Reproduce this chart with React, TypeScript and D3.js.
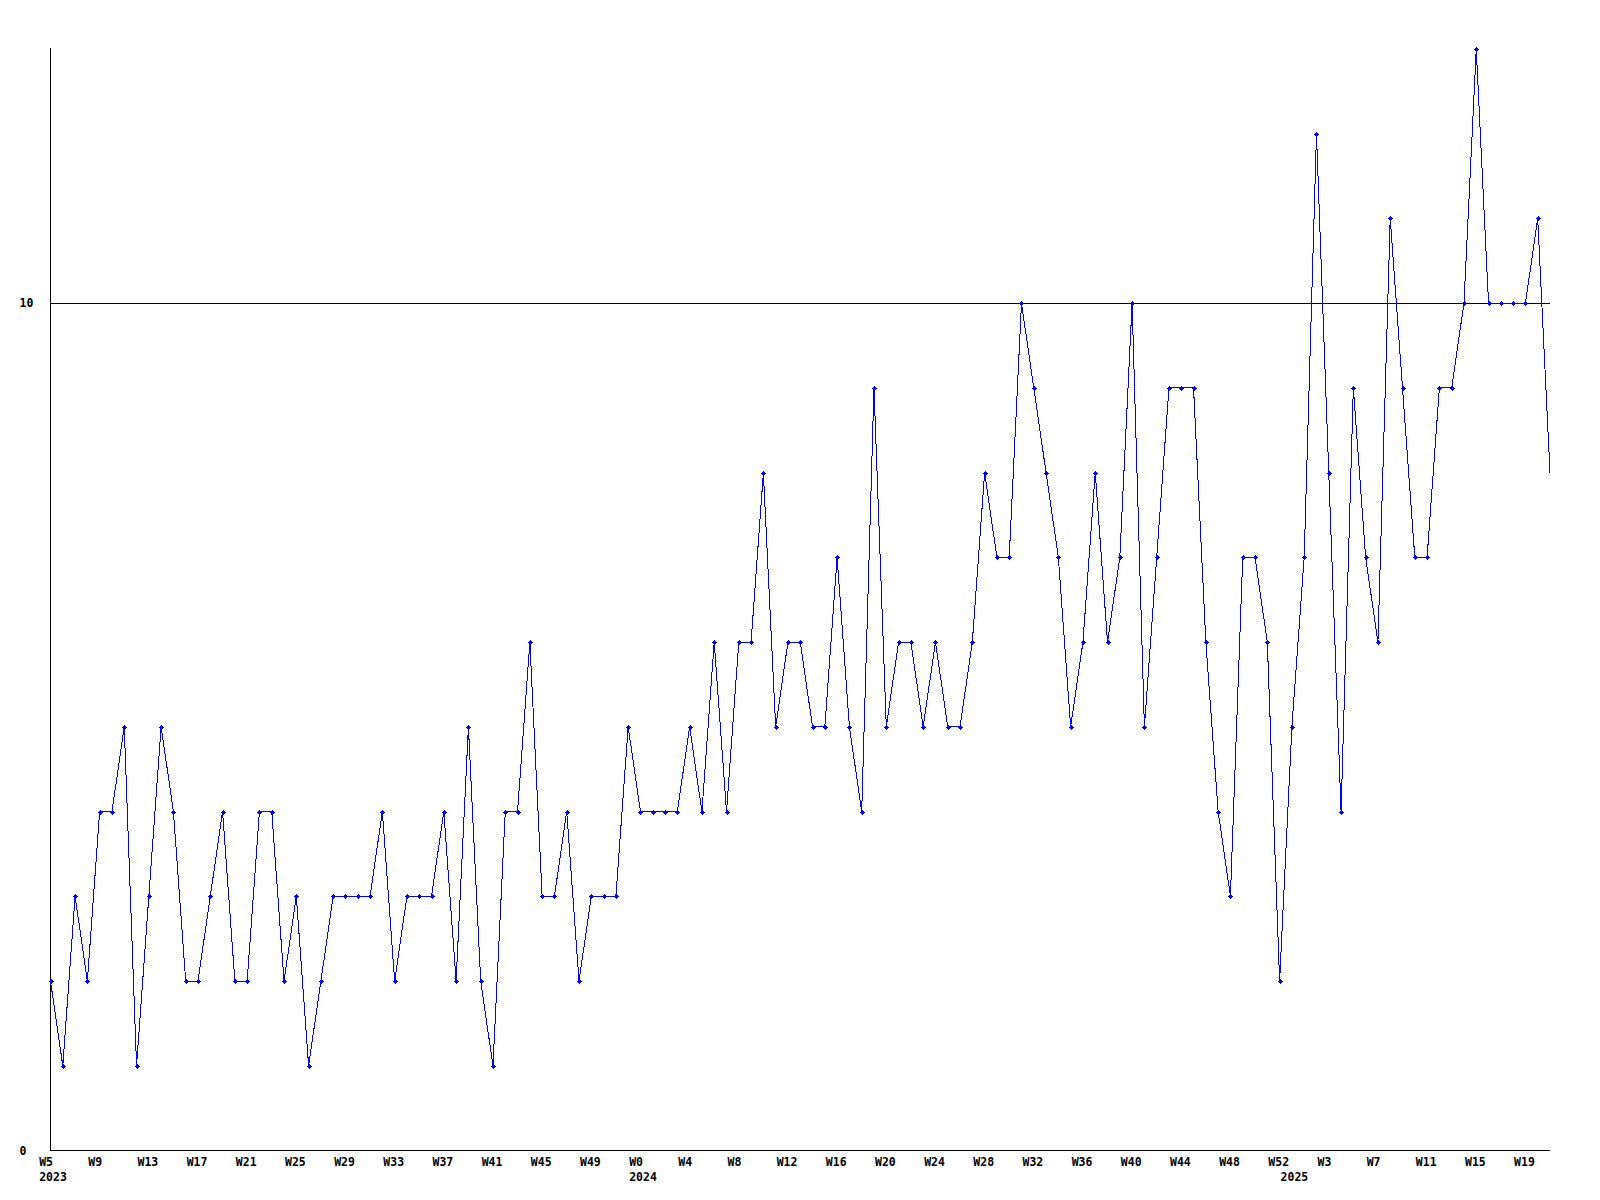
import React from "react";
import * as d3 from "d3";

// Week segments per year (first and last week number shown)
const yearNames = ["2023", "2024", "2025"];
const yearFirstWeek = [5, 0, 0];
const yearLastWeek = [52, 52, 21];

// Weekly counts
const values2023 = [2,1,3,2,4,4,5,1,3,5,4,2,2,3,4,2,2,4,4,2,3,1,2,3,3,3,3,4,2,3,3,3,4,2,5,2,1,4,4,6,3,3,4,2,3,3,3,5];
const values2024 = [4,4,4,4,5,4,6,4,6,6,8,5,6,6,5,5,7,5,4,9,5,6,6,5,6,5,5,6,8,7,7,10,9,8,7,5,6,8,6,7,10,5,7,9,9,9,6,4,3,7,7,6,2];
const values2025 = [5,7,12,8,4,9,7,6,11,9,7,7,9,9,10,13,10,10,10,10,11,8];

const yTicks = [0, 10];
const labelEvery = 4;

type Pt = { key: string; week: string; year: string; firstOfYear: boolean; v: number };

const yearValues = [values2023, values2024, values2025];
const points: Pt[] = [];
yearNames.forEach((y, yi) => {
  const vals = yearValues[yi];
  for (let w = yearFirstWeek[yi]; w <= yearLastWeek[yi]; w++) {
    const idx = w - yearFirstWeek[yi];
    points.push({ key: `${y}-W${w}`, week: `W${w}`, year: y, firstOfYear: idx === 0, v: vals[idx] });
  }
});

const W = 1600, H = 1200;
const left = 50.5, right = 1550, top = 49, bottom = 1150.5;
const font = "'DejaVu Sans Mono', monospace";

export default function App() {
  const x = d3.scalePoint<string>().domain(points.map(p => p.key)).range([left, right]);
  const y = d3.scaleLinear().domain([0, 13]).range([bottom, top]);
  const line = d3.line<Pt>().x(p => x(p.key)!).y(p => y(p.v));

  return (
    <div style={{ position: "absolute", left: 0, top: 0 }}>
      <svg width={W} height={H} style={{ display: "block", background: "#fff" }}>
        <rect width={W} height={H} fill="#fff" />
        {/* gridline at 10 */}
        {yTicks.filter(t => t > 0).map(t => (
          <line key={t} x1={left} x2={right} y1={Math.round(y(t)) + 0.5} y2={Math.round(y(t)) + 0.5} stroke="#000" strokeWidth={1} shapeRendering="crispEdges" />
        ))}
        {/* axes */}
        <line x1={left} x2={left} y1={top - 1} y2={bottom + 0.5} stroke="#000" strokeWidth={1} shapeRendering="crispEdges" />
        <line x1={left} x2={right} y1={bottom} y2={bottom} stroke="#000" strokeWidth={1} shapeRendering="crispEdges" />
        {/* y labels */}
        {yTicks.map(t => (
          <text key={t} x={19.5} y={y(t) + 4} fontFamily={font} fontWeight="bold" fontSize={11.5} fill="#000">{t}</text>
        ))}
        {/* x labels */}
        {points.map((p, i) => (
          <g key={p.key}>
            {i % labelEvery === 0 && (
              <text x={x(p.key)! - 11.3} y={1166} fontFamily={font} fontWeight="bold" fontSize={11.5} fill="#000">{p.week}</text>
            )}
            {p.firstOfYear && (
              <text x={x(p.key)! - 11.3} y={1181} fontFamily={font} fontWeight="bold" fontSize={11.5} fill="#000">{p.year}</text>
            )}
          </g>
        ))}
        {/* series */}
        <path d={line(points)!} fill="none" stroke="#0000ff" strokeWidth={1} shapeRendering="crispEdges" />
        {points.slice(0, points.length - 1).map(p => {
          const cx = Math.round(x(p.key)!);
          const cy = Math.round(y(p.v));
          return (
            <g key={p.key} fill="#0000ff" shapeRendering="crispEdges">
              <rect x={cx - 2} y={cy} width={5} height={1} />
              <rect x={cx} y={cy - 2} width={1} height={5} />
              <rect x={cx - 1} y={cy - 1} width={3} height={3} />
            </g>
          );
        })}
      </svg>
    </div>
  );
}
